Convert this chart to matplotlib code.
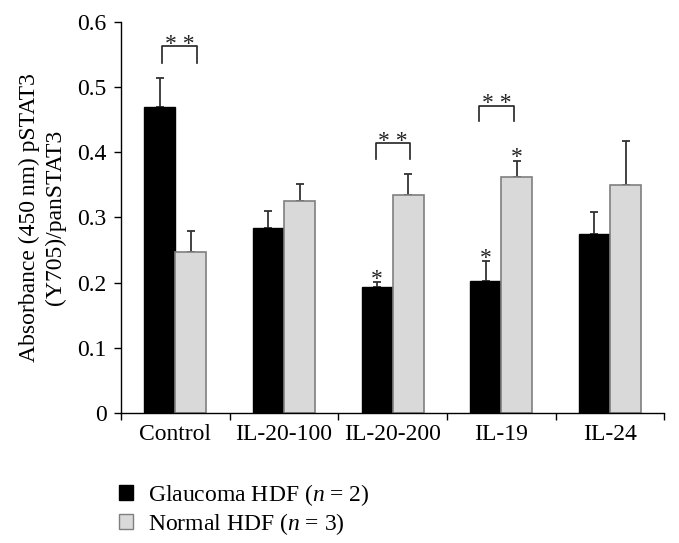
import numpy as np
import matplotlib.pyplot as plt
from matplotlib.patches import Patch

plt.rcParams['font.family'] = ['Liberation Serif', 'DejaVu Serif']
plt.rcParams['mathtext.fontset'] = 'custom'
plt.rcParams['mathtext.it'] = 'Liberation Serif:italic'
plt.rcParams['mathtext.rm'] = 'Liberation Serif'

categories = ["Control", "IL-20-100", "IL-20-200", "IL-19", "IL-24"]
glaucoma = [0.470, 0.284, 0.193, 0.202, 0.274]
glaucoma_err = [0.045, 0.026, 0.008, 0.031, 0.035]
normal = [0.247, 0.326, 0.335, 0.362, 0.350]
normal_err = [0.033, 0.026, 0.032, 0.025, 0.067]

# single-star markers: (series, category)
single_stars = [("g", 2), ("g", 3), ("n", 3)]
# double-star brackets: (left x, right x, top y, leg bottom y)
brackets = [(-0.12, 0.197, 0.563, 0.538),
            (1.844, 2.160, 0.415, 0.390),
            (2.797, 3.116, 0.472, 0.448)]

fs = 17
fig = plt.figure(figsize=(6.79, 5.43), dpi=100)
ax = fig.add_axes([0.1782, 0.2400, 0.8002, 0.7189])

x = np.arange(len(categories))
w = 0.285
off = 0.143
ax.bar(x - off, glaucoma, w, color="black", edgecolor="black", linewidth=1.0, zorder=2)
ax.bar(x + off, normal, w, color="#d9d9d9", edgecolor="#7f7f7f", linewidth=1.2, zorder=2)
ax.errorbar(x - off, glaucoma, yerr=[np.zeros(5), glaucoma_err], fmt="none",
            ecolor="#333333", elinewidth=1.3, capsize=2.6, capthick=1.3, zorder=1)
ax.errorbar(x + off, normal, yerr=[np.zeros(5), normal_err], fmt="none",
            ecolor="#333333", elinewidth=1.3, capsize=2.6, capthick=1.3, zorder=1)

for series, i in single_stars:
    if series == "g":
        xs, ytop = i - off, glaucoma[i] + glaucoma_err[i]
    else:
        xs, ytop = i + off, normal[i] + normal_err[i]
    ax.text(xs, ytop - 0.004, "*", ha="center", va="baseline", fontsize=17, color="#222222")

for x0, x1, ytop, ybot in brackets:
    ax.plot([x0, x0, x1, x1], [ybot, ytop, ytop, ybot], color="#222222", lw=1.2)
    ax.text((x0 + x1) / 2, ytop - 0.006, "* *", ha="center", va="baseline",
            fontsize=17, color="#222222")

ax.set_xlim(-0.5, 4.5)
ax.set_ylim(0, 0.6)
ax.set_yticks(np.arange(0, 0.61, 0.1))
ax.set_yticklabels(["0", "0.1", "0.2", "0.3", "0.4", "0.5", "0.6"])
ax.set_xticks(np.arange(-0.5, 4.6, 1))
ax.set_xticklabels([])
ax.set_xticks(x, minor=True)
ax.set_xticklabels(categories, minor=True)
ax.tick_params(axis="x", which="minor", length=0, pad=8, labelsize=fs)
ax.tick_params(axis="x", which="major", length=5, width=1.0, direction="out")
ax.tick_params(axis="y", length=5, width=1.0, direction="out", labelsize=fs, pad=5.5)
for s in ["top", "right"]:
    ax.spines[s].set_visible(False)
for s in ["left", "bottom"]:
    ax.spines[s].set_linewidth(1.0)

ax.set_ylabel("Absorbance (450\u2009nm) pSTAT3\n(Y705)/panSTAT3", fontsize=fs,
              linespacing=1.3, labelpad=8)

handles = [Patch(facecolor="black", edgecolor="black"),
           Patch(facecolor="#d9d9d9", edgecolor="#7f7f7f")]
labels = ["Glaucoma HDF ($n$ = 2)", "Normal HDF ($n$ = 3)"]
fig.legend(handles, labels, loc="upper left", bbox_to_anchor=(0.175, 0.113),
           frameon=False, fontsize=fs, handlelength=0.6, handleheight=0.6,
           handletextpad=0.65, labelspacing=0.15, borderaxespad=0, borderpad=0)

fig.savefig("out.png", dpi=100)
